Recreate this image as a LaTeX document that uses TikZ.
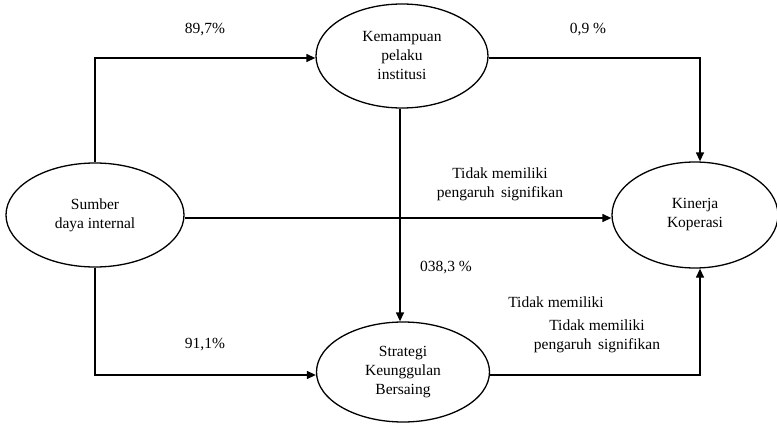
\documentclass[tikz,border=0pt]{standalone}
\usepackage{fontspec}
\setmainfont{Liberation Serif}
\usetikzlibrary{shapes.geometric,arrows.meta}
\begin{document}
\begin{tikzpicture}[x=1pt,y=-1pt,
  var/.style={ellipse,draw,line width=1.3pt,inner sep=0pt,align=center,
    font=\fontsize{15.5}{19}\selectfont},
  conn/.style={line width=1.3pt},
  arr/.style={conn,-{Triangle[length=9pt,width=8pt]}},
  lbl/.style={align=center,font=\fontsize{15.5}{19}\selectfont,inner sep=0pt}]
\useasboundingbox (0,0) rectangle (777,428);
\node[var,minimum width=178pt,minimum height=104pt] (sdi) at (95,215) {Sumber\\daya internal};
\node[var,minimum width=172pt,minimum height=104pt] (kpi) at (402,56) {Kemampuan\\pelaku\\institusi};
\node[var,minimum width=173pt,minimum height=100pt] (skb) at (403,372) {Strategi\\Keunggulan\\Bersaing};
\node[var,minimum width=166pt,minimum height=106pt] (kk) at (695,215) {Kinerja\\Koperasi};
\coordinate (c1) at (sdi.north |- 0,58);
\coordinate (c2) at (700,58);
\coordinate (c3) at (sdi.south |- 0,375);
\coordinate (c4) at (700,375);
\draw[arr] (sdi.north) -- (c1) -- (kpi.west |- c1);
\draw[arr] (kpi.east |- c2) -- (c2) -- (kk.north -| c2);
\draw[arr] (kpi.south -| 400,0) -- (skb.north -| 400,0);
\draw[arr] (sdi.east |- 0,218) -- (kk.west |- 0,218);
\draw[arr] (sdi.south) -- (c3) -- (skb.west |- c3);
\draw[arr] (skb.east |- c4) -- (c4) -- (kk.south -| c4);
\node[lbl] (l1) at (205,30) {89,7\%};
\node[lbl] (l2) at (588,30) {0,9 \%};
\node[lbl] (l3) at (500,184) {Tidak memiliki\\pengaruh\, signifikan};
\node[lbl] (l4) at (446,268) {038,3 \%};
\node[lbl] (l5) at (205,345) {91,1\%};
\node[lbl] (l6) at (556,302) {Tidak memiliki};
\node[lbl] (l7) at (597,336) {Tidak memiliki\\pengaruh\, signifikan};
\end{tikzpicture}
\end{document}
